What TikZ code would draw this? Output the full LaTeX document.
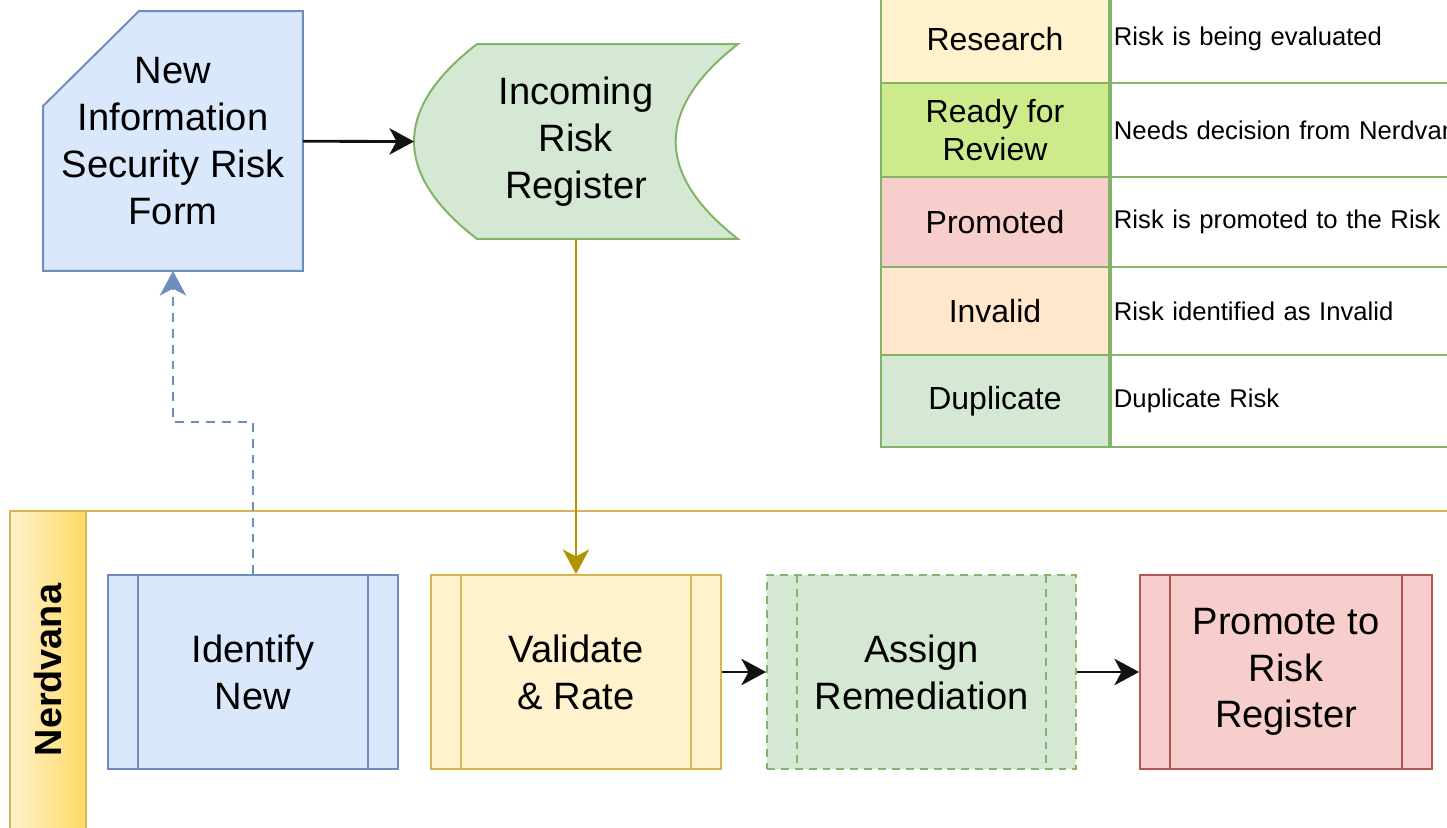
\documentclass[tikz,border=0pt]{standalone}
\usepackage{fontspec}
\setmainfont{Liberation Sans}
\usepackage{xcolor}
\definecolor{ink}{HTML}{111111}
\definecolor{bluefill}{HTML}{DAE8FC}
\definecolor{blueline}{HTML}{6C8EBF}
\definecolor{greenfill}{HTML}{D5E8D4}
\definecolor{greenline}{HTML}{82B366}
\definecolor{yellowfill}{HTML}{FFF2CC}
\definecolor{yellowline}{HTML}{D6B656}
\definecolor{yellowdark}{HTML}{FFD966}
\definecolor{redfill}{HTML}{F8CECC}
\definecolor{redline}{HTML}{B85450}
\definecolor{orangefill}{HTML}{FFE6CC}
\definecolor{limefill}{HTML}{CDEB8B}
\definecolor{gold}{HTML}{B09500}
\usetikzlibrary{arrows.meta,positioning,calc,backgrounds}
\tikzset{
  every picture/.style={line width=1.13pt},
  big/.style={font=\fontsize{21.7pt}{26.6pt}\selectfont},
  cell/.style={draw=greenline, minimum width=4.56cm, minimum height=#1, inner sep=0pt, align=center, font=\fontsize{18.2pt}{21.5pt}\selectfont},
  desc/.style={draw=greenline, fill=white, minimum height=#1, anchor=west, text width=9.6cm, inner xsep=0.06cm, inner ysep=0pt, align=left, font=\fontsize{14.6pt}{17.5pt}\selectfont},
  shapetext/.style={big, align=center, inner sep=0pt, minimum width=#1},
  outline/.style={line width=1.13pt},
  proc/.style={big, align=center, minimum height=3.88cm, minimum width=5.8cm, inner sep=0pt,
    path picture={\draw[#1] ([xshift=0.6cm]path picture bounding box.north west) -- ([xshift=0.6cm]path picture bounding box.south west)
      ([xshift=-0.6cm]path picture bounding box.north east) -- ([xshift=-0.6cm]path picture bounding box.south east);}},
  arrow/.style={-{Stealth[length=14pt, width=15pt, inset=4pt]}, line width=1.6pt, draw=ink},
  flowarrow/.style={arrow, draw=gold, line width=1.3pt},
  backarrow/.style={arrow, draw=blueline, line width=1.3pt, dash pattern=on 5pt off 4pt},
}
\begin{document}
\begin{tikzpicture}[x=0.02cm, y=-0.02cm]
  \useasboundingbox (0,0) rectangle (1447,828);
  \clip (0,0) rectangle (1447,828);
  % top row
  \node[shapetext=5.16cm, minimum height=5.16cm] (form) at (173,141) {New\\Information\\Security Risk\\Form};
  \node[shapetext=6.44cm, minimum height=3.86cm] (store) at (576,141.5) {Incoming\\Risk\\Register};
  \begin{scope}[on background layer]
    \filldraw[outline, draw=blueline, fill=bluefill] ($(form.north west)+(96,0)$) -- (form.north east) -- (form.south east)
      -- (form.south west) -- ($(form.north west)+(0,95)$) -- cycle;
    \filldraw[outline, draw=greenline, fill=greenfill] ($(store.north west)+(63,0)$) -- (store.north east)
      .. controls ($(store.north east)+(-83,64.7)$) and ($(store.south east)+(-83,-64.7)$) .. (store.south east)
      -- ($(store.south west)+(63,0)$)
      .. controls ($(store.south west)+(-21,-64.7)$) and ($(store.north west)+(-21,64.7)$) .. ($(store.north west)+(63,0)$) -- cycle;
  \end{scope}
  % status table
  \node[cell=1.76cm, fill=yellowfill] (t1) at (995,39) {Research};
  \node[cell=1.88cm, fill=limefill] (t2) at (995,130) {Ready for\\Review};
  \node[cell=1.8cm, fill=redfill] (t3) at (995,222) {Promoted};
  \node[cell=1.76cm, fill=orangefill] (t4) at (995,311) {Invalid};
  \node[cell=1.84cm, fill=greenfill] (t5) at (995,401) {Duplicate};
  \node[desc=1.76cm] (d1) at (t1.east) {Risk is being evaluated};
  \node[desc=1.88cm] (d2) at (t2.east) {Needs decision from Nerdvana};
  \node[desc=1.8cm] (d3) at (t3.east) {Risk is promoted to the Risk Register};
  \node[desc=1.76cm] (d4) at (t4.east) {Risk identified as Invalid};
  \node[desc=1.84cm] (d5) at (t5.east) {Duplicate Risk};
  % swimlane
  \fill[left color=yellowfill, right color=yellowdark] (10,511) rectangle (86,880);
  \draw[yellowline] (1480,511) -- (10,511) -- (10,880);
  \draw[yellowline] (86,511) -- (86,880);
  \node[rotate=90, font=\fontsize{21.5pt}{26pt}\selectfont\bfseries] (lane) at (48,670) {Nerdvana};
  \node[proc={blueline}, draw=blueline, fill=bluefill] (ident) at (253,672) {Identify\\New};
  \node[proc={yellowline}, draw=yellowline, fill=yellowfill] (valid) at (576,672) {Validate\\\& Rate};
  \node[proc={greenline, dash pattern=on 4.5pt off 3.4pt}, draw=greenline, fill=greenfill, dash pattern=on 4.5pt off 3.4pt,
    minimum width=6.18cm] (assign) at (921.5,672) {Assign\\Remediation};
  \node[proc={redline}, draw=redline, fill=redfill, minimum width=5.84cm] (promo) at (1286,672) {Promote to\\Risk\\Register};
  % connectors
  \draw[arrow] (form) -- (store.west);
  \draw[flowarrow] (store.south) -- (valid.north);
  \draw[backarrow] (ident.north) -- ++(0,-152) -| (form.south);
  \draw[arrow] (valid) -- (assign);
  \draw[arrow] (assign) -- (promo);
\end{tikzpicture}
\end{document}
